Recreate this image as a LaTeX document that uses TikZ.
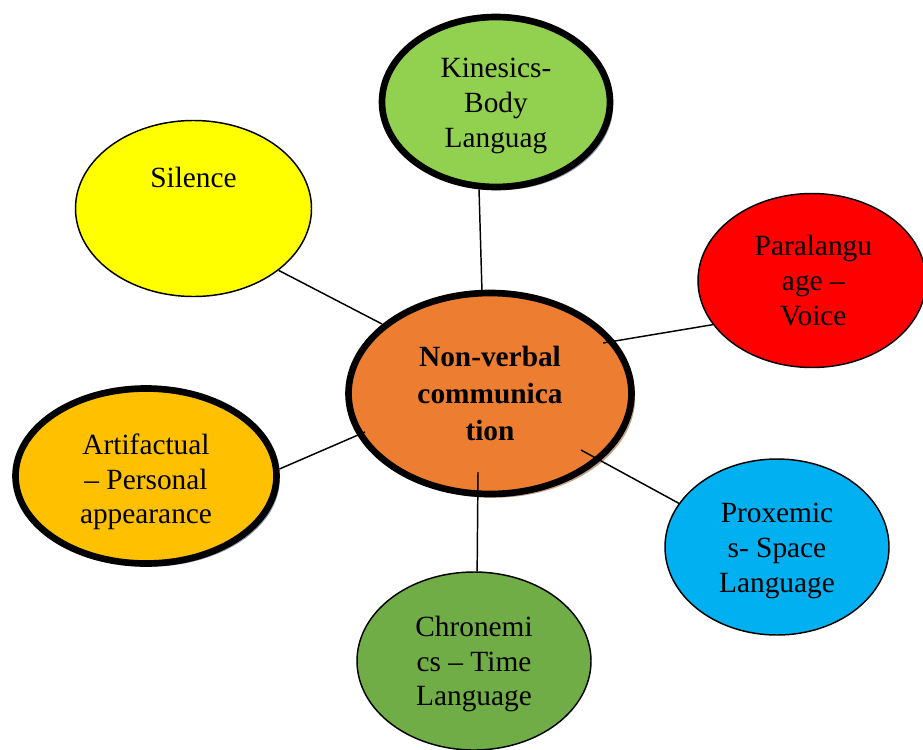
\documentclass[tikz,border=0pt]{standalone}
\usepackage{fontspec}
\setmainfont{Liberation Serif}
\usetikzlibrary{shapes.geometric,shadows}
\definecolor{cOrange}{HTML}{ED7D31}
\definecolor{cLGreen}{HTML}{92D050}
\definecolor{cYellow}{HTML}{FFFF00}
\definecolor{cRed}{HTML}{FF0000}
\definecolor{cGold}{HTML}{FFC000}
\definecolor{cBlue}{HTML}{00B0F0}
\definecolor{cGreen}{HTML}{70AD47}
\definecolor{shBlue}{HTML}{8E9AB2}
\definecolor{shBrown}{HTML}{C9A088}
\tikzset{
  bub/.style={ellipse,draw=black,line width=1.1pt,inner sep=0pt},
  txt/.style={align=center,inner sep=0pt,font=\fontsize{22}{26}\selectfont},
  heavy/.style={line width=5pt},
  shadeblue/.style={drop shadow={shadow xshift=2.4pt,shadow yshift=-2.4pt,fill=shBlue,opacity=1}},
  shadebrown/.style={drop shadow={shadow xshift=2.8pt,shadow yshift=-2.8pt,fill=shBrown,opacity=1}},
  conn/.style={line width=1.1pt,draw=black},
}
\begin{document}
\begin{tikzpicture}[x=0.75pt,y=-0.75pt]
\useasboundingbox (0,0) rectangle (923,749);
% outer bubbles
\node[bub,heavy,shadeblue,fill=cLGreen,minimum width=228*0.75pt,minimum height=170*0.75pt,
  label={[txt,yshift=-3pt]center:{Kinesics-\\Body\\Languag}}] (kin) at (496,102) {};
\node[bub,fill=cYellow,minimum width=236*0.75pt,minimum height=176*0.75pt,
  label={[txt,yshift=23pt]center:Silence}] (sil) at (193.5,208.5) {};
\node[bub,fill=cRed,minimum width=228*0.75pt,minimum height=174*0.75pt,
  label={[txt,xshift=1pt]center:{Paralangu\\age --\\Voice}}] (par) at (812,280.5) {};
\node[bub,heavy,shadeblue,fill=cGold,minimum width=261*0.75pt,minimum height=175*0.75pt,
  label={[txt,yshift=-4.5pt]center:{Artifactual\\-- Personal\\appearance}}] (art) at (146,476) {};
\node[bub,fill=cBlue,minimum width=224*0.75pt,minimum height=176*0.75pt,
  label={[txt,yshift=-3pt]center:{Proxemic\\s- Space\\Language}}] (pro) at (777,547) {};
\node[bub,fill=cGreen,minimum width=234*0.75pt,minimum height=178*0.75pt,
  label={[txt,yshift=-2.3pt]center:{Chronemi\\cs -- Time\\Language}}] (chr) at (474,661) {};
% centre
\node[bub,heavy,shadebrown,fill=cOrange,minimum width=283*0.75pt,minimum height=201*0.75pt,
  label={[txt,font=\fontsize{22}{28}\selectfont\bfseries]center:{Non-verbal\\communica\\tion}}] (ctr) at (490,393.5) {};
% inner ends of connectors
\coordinate (eSil) at (382,324);
\coordinate (eKin) at (482,292);
\coordinate (ePar) at (603,343);
\coordinate (ePro) at (581,450);
\coordinate (eChr) at (478,472);
\coordinate (eArt) at (365,432);
% connectors
\draw[conn] (sil.-36) -- (eSil);
\draw[conn] (kin.-101) -- (eKin);
\draw[conn] (par.-156) -- (ePar);
\draw[conn] (pro.156) -- (ePro);
\draw[conn] (chr.88) -- (eChr);
\draw[conn] (art.3.4) -- (eArt);
\end{tikzpicture}
\end{document}
